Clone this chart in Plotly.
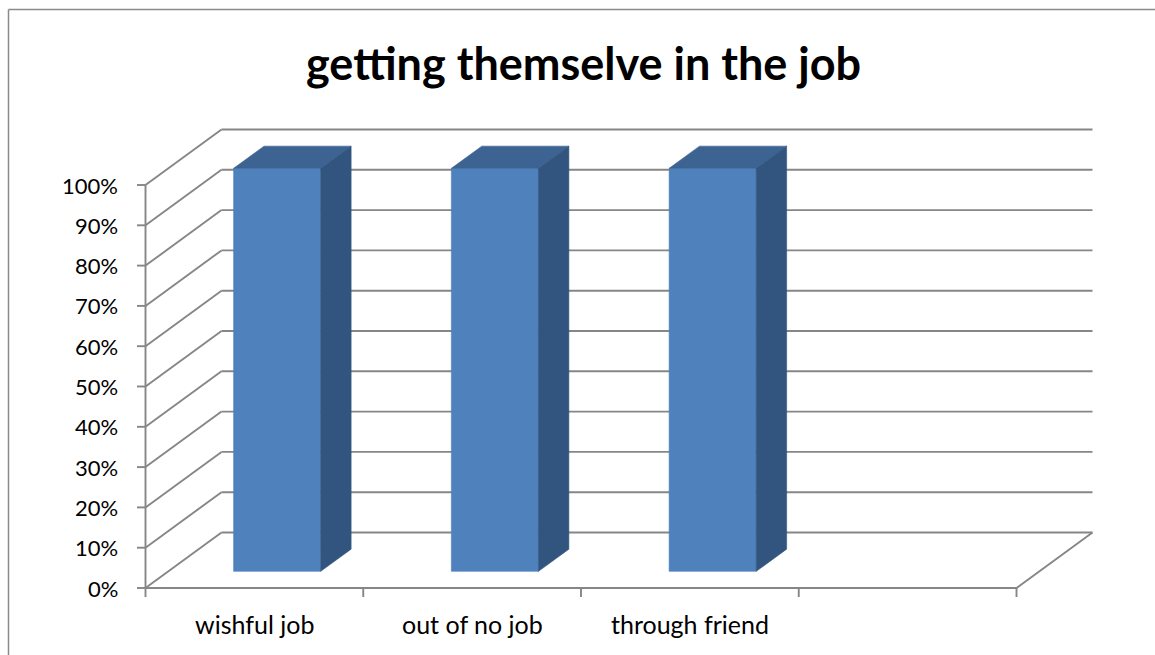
import plotly.graph_objects as go

# ---- data ----
categories = ["wishful job", "out of no job", "through friend", ""]
values = [1.0, 1.0, 1.0, None]
y_ticks = [0.0, 0.1, 0.2, 0.3, 0.4, 0.5, 0.6, 0.7, 0.8, 0.9, 1.0]
y_tick_labels = ["0%", "10%", "20%", "30%", "40%", "50%", "60%", "70%", "80%", "90%", "100%"]
title_text = "getting themselve in the job"

# ---- geometry of the oblique 3-D projection ----
W, H = 1155, 655
X0, Y0 = 145.5, 588.0        # pixel position of the front-left floor corner
PX_CAT = 217.75              # pixels per category slot
PX_UNIT = 403.0              # pixels per 100 %
DEPTH_PX = (76.0, -55.5)     # pixel shift from front plane to back wall

x_range = [-X0 / PX_CAT, (W - X0) / PX_CAT]
y_range = [-(H - Y0) / PX_UNIT, Y0 / PX_UNIT]
DU = DEPTH_PX[0] / PX_CAT
DV = -DEPTH_PX[1] / PX_UNIT

n_cat = len(categories)
vmax = y_ticks[-1]
BAR_W = 0.40
BAR_D0, BAR_D1 = 0.30, 0.70


def proj(u, v, d):
    return u + d * DU, v + d * DV


GRID = "#868686"
FRONT = "#4F81BD"
TOP = "#3C6392"
SIDE = "#32557F"
FONT = "Lato"

fig = go.Figure()


def add_lines(segments, color=GRID, width=1.9):
    xs, ys = [], []
    for seg in segments:
        for (u, v, d) in seg:
            x, y = proj(u, v, d)
            xs.append(x)
            ys.append(y)
        xs.append(None)
        ys.append(None)
    fig.add_trace(go.Scatter(x=xs, y=ys, mode="lines",
                             line=dict(color=color, width=width),
                             hoverinfo="skip", showlegend=False))


# back-wall and side-wall gridlines
segs = []
for t in y_ticks:
    segs.append([(0, t, 1), (n_cat, t, 1)])
    segs.append([(0, t, 0), (0, t, 1)])
# floor front edge and right edge
segs.append([(0, 0, 0), (n_cat, 0, 0), (n_cat, 0, 1)])
# value axis line
segs.append([(0, 0, 0), (0, vmax, 0)])
add_lines(segs)

# tick marks
tick_len_x = 8.5 / PX_CAT
tick_len_y = 9.0 / PX_UNIT
tseg_x, tseg_y = [], []
for t in y_ticks:
    tseg_x += [-tick_len_x, 0, None]
    tseg_y += [t, t, None]
for i in range(n_cat + 1):
    tseg_x += [i, i, None]
    tseg_y += [0, -tick_len_y, None]
fig.add_trace(go.Scatter(x=tseg_x, y=tseg_y, mode="lines",
                         line=dict(color=GRID, width=1.9),
                         hoverinfo="skip", showlegend=False))


def face(pts, color):
    xs, ys = [], []
    for (u, v, d) in pts + [pts[0]]:
        x, y = proj(u, v, d)
        xs.append(x)
        ys.append(y)
    fig.add_trace(go.Scatter(x=xs, y=ys, mode="lines", fill="toself",
                             fillcolor=color, line=dict(color=color, width=0.6),
                             hoverinfo="skip", showlegend=False))


# 3-D columns
for i, val in enumerate(values):
    if val is None:
        continue
    l = i + 0.5 - BAR_W / 2
    r = i + 0.5 + BAR_W / 2
    # front
    face([(l, 0, BAR_D0), (r, 0, BAR_D0), (r, val, BAR_D0), (l, val, BAR_D0)], FRONT)
    # top
    face([(l, val, BAR_D0), (r, val, BAR_D0), (r, val, BAR_D1), (l, val, BAR_D1)], TOP)
    # right side
    face([(r, 0, BAR_D0), (r, 0, BAR_D1), (r, val, BAR_D1), (r, val, BAR_D0)], SIDE)

annotations = []
# value-axis labels
for t, lab in zip(y_ticks, y_tick_labels):
    annotations.append(dict(x=-26.0 / PX_CAT, y=t, xref="x", yref="y", text=lab,
                            showarrow=False, xanchor="right", yanchor="middle",
                            font=dict(family=FONT, size=22, color="#000000")))
# category labels
for i, lab in enumerate(categories):
    if not lab:
        continue
    annotations.append(dict(x=i + 0.5, y=-36.0 / PX_UNIT, xref="x", yref="y", text=lab,
                            showarrow=False, xanchor="center", yanchor="middle",
                            font=dict(family=FONT, size=25, color="#000000")))
# title
annotations.append(dict(x=583.5 / W, y=1 - 63.0 / H, xref="paper", yref="paper",
                        text="<b>" + title_text + "</b>", showarrow=False,
                        xanchor="center", yanchor="middle",
                        font=dict(family=FONT, size=45, color="#000000")))

# chart-area border (left and top edges)
shapes = [dict(type="line", xref="paper", yref="paper",
               x0=8.5 / W, x1=8.5 / W, y0=0, y1=1 - 9.5 / H,
               line=dict(color="#8a8a8a", width=1.5)),
          dict(type="line", xref="paper", yref="paper",
               x0=8.5 / W, x1=1, y0=1 - 9.5 / H, y1=1 - 9.5 / H,
               line=dict(color="#8a8a8a", width=1.5))]

fig.update_layout(
    width=W, height=H,
    margin=dict(l=0, r=0, t=0, b=0),
    paper_bgcolor="#ffffff", plot_bgcolor="#ffffff",
    xaxis=dict(range=x_range, visible=False, fixedrange=True),
    yaxis=dict(range=y_range, visible=False, fixedrange=True),
    annotations=annotations, shapes=shapes,
    showlegend=False,
)

fig.write_html("out.html")
